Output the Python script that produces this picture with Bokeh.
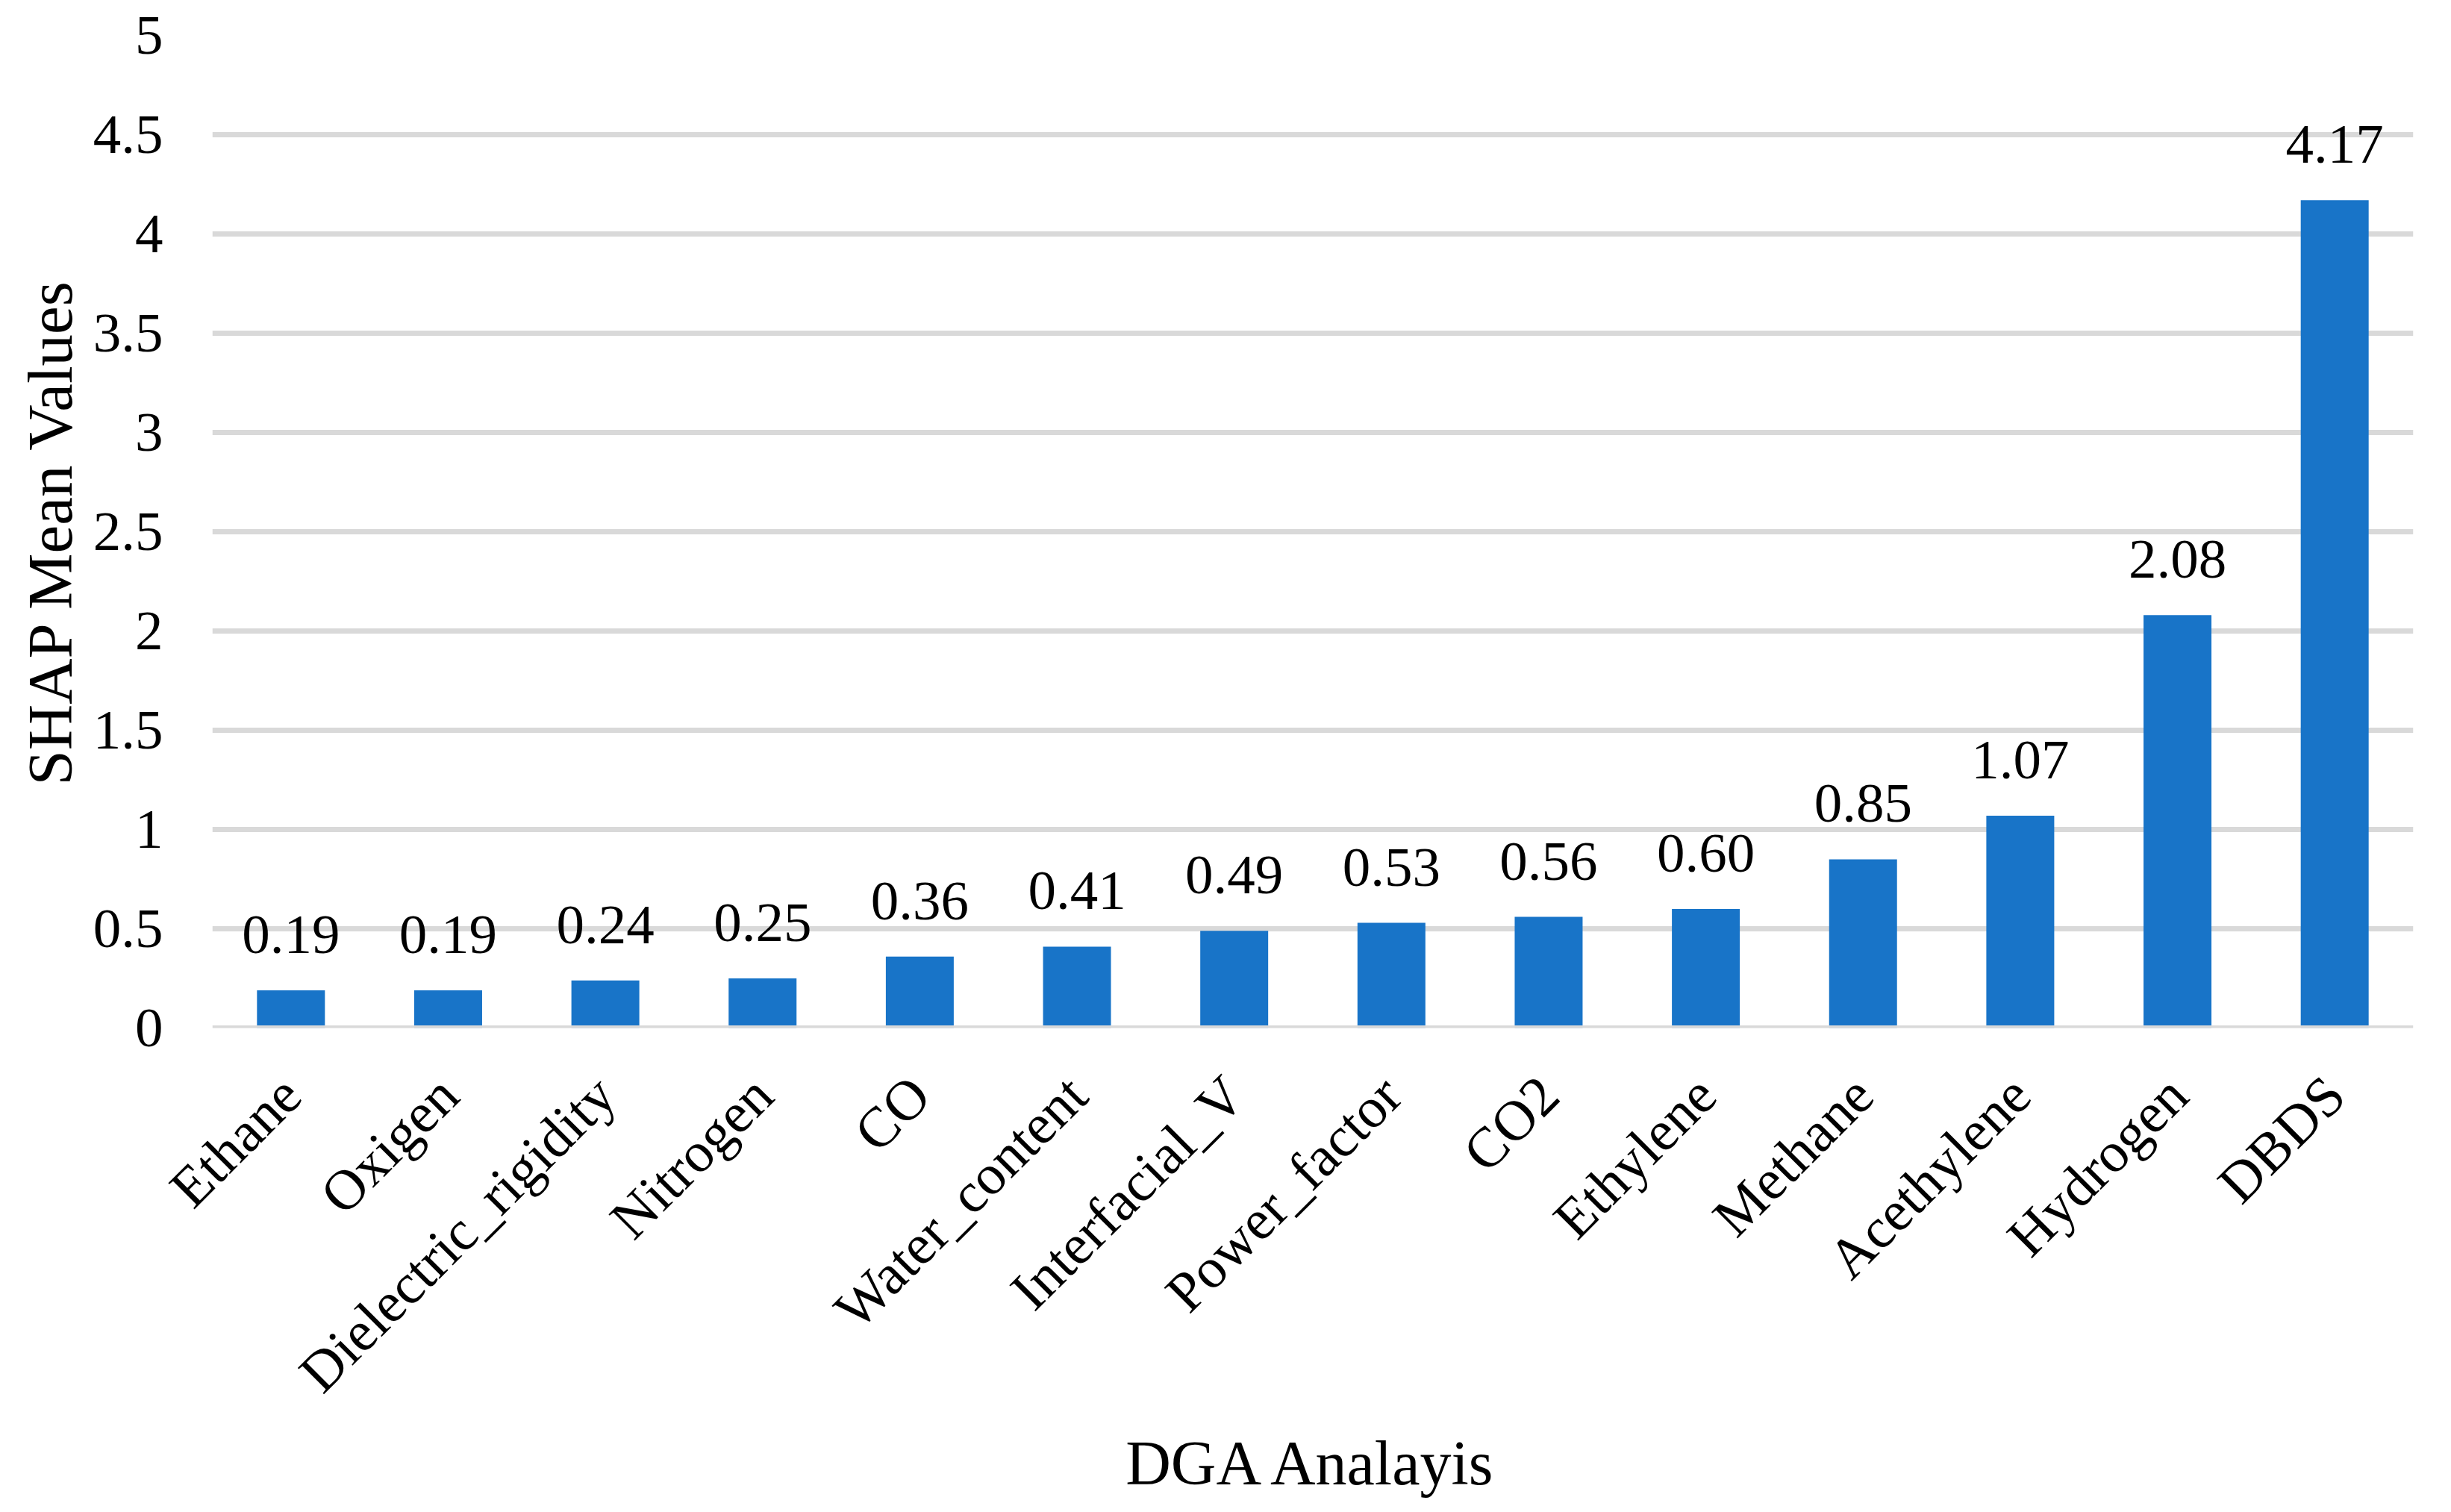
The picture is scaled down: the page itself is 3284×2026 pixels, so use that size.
import math
from bokeh.plotting import figure
from bokeh.models import ColumnDataSource, FactorRange, Range1d, FixedTicker, LabelSet, Span
from bokeh.embed import file_html
from bokeh.resources import INLINE

categories = ["Ethane", "Oxigen", "Dielectric_rigidity", "Nitrogen", "CO", "Water_content",
              "Interfacial_V", "Power_factor", "CO2", "Ethylene", "Methane", "Acethylene",
              "Hydrogen", "DBDS"]
shap_values = [0.19, 0.19, 0.24, 0.25, 0.36, 0.41, 0.49, 0.53, 0.56, 0.60, 0.85, 1.07, 2.08, 4.17]
y_ticks = [0, 0.5, 1, 1.5, 2, 2.5, 3, 3.5, 4, 4.5, 5]
y_tick_labels = ["0", "0.5", "1", "1.5", "2", "2.5", "3", "3.5", "4", "4.5", "5"]

FONT = "Liberation Serif"
BAR = "#1874C8"
GRID = "#D9D9D9"

src = ColumnDataSource(dict(cat=categories, val=shap_values,
                            lab=["%.2f" % v for v in shap_values]))

p = figure(x_range=FactorRange(*categories), y_range=Range1d(0, 5),
           width=3268, height=2010, output_backend="svg", toolbar_location=None,
           min_border_left=284, min_border_right=35, min_border_top=47, min_border_bottom=633)
p.outline_line_color = None
p.background_fill_color = "white"
p.border_fill_color = "white"
p.x_range.range_padding = 0
p.x_range.group_padding = 0

p.vbar(x="cat", top="val", width=0.432, source=src, fill_color=BAR, line_color=None)

p.add_layout(Span(location=0, dimension="width", line_color=GRID, line_width=7))

labels = LabelSet(x="cat", y="val", text="lab", source=src, text_align="center",
                  text_baseline="alphabetic", y_offset=50, text_font=FONT,
                  text_font_size="75px", text_color="black")
p.add_layout(labels)

p.xgrid.grid_line_color = None
p.ygrid.grid_line_color = GRID
p.ygrid.grid_line_width = 7
p.yaxis.ticker = FixedTicker(ticks=y_ticks)
p.yaxis.major_label_overrides = {t: l for t, l in zip(y_ticks, y_tick_labels)}

for ax in (p.xaxis[0], p.yaxis[0]):
    ax.axis_line_color = None
    ax.major_tick_line_color = None
    ax.minor_tick_line_color = None
    ax.major_tick_in = 0
    ax.major_tick_out = 0
    ax.major_label_text_font = FONT
    ax.major_label_text_color = "black"
    ax.axis_label_text_font = FONT
    ax.axis_label_text_font_style = "normal"
    ax.axis_label_text_color = "black"

p.yaxis.major_label_text_font_size = "75px"
p.xaxis.major_label_text_font_size = "76px"
p.yaxis.axis_label = "SHAP Mean Values"
p.yaxis.axis_label_text_font_size = "85px"
p.yaxis.major_label_standoff = 66
p.yaxis.axis_label_standoff = 8
p.xaxis.axis_label = "DGA Analayis"
p.xaxis.axis_label_text_font_size = "84px"
p.xaxis.major_label_orientation = math.pi / 4
p.xaxis.major_label_standoff = 77
p.xaxis.axis_label_standoff = 0

open("out.html", "w").write(file_html(p, INLINE))
